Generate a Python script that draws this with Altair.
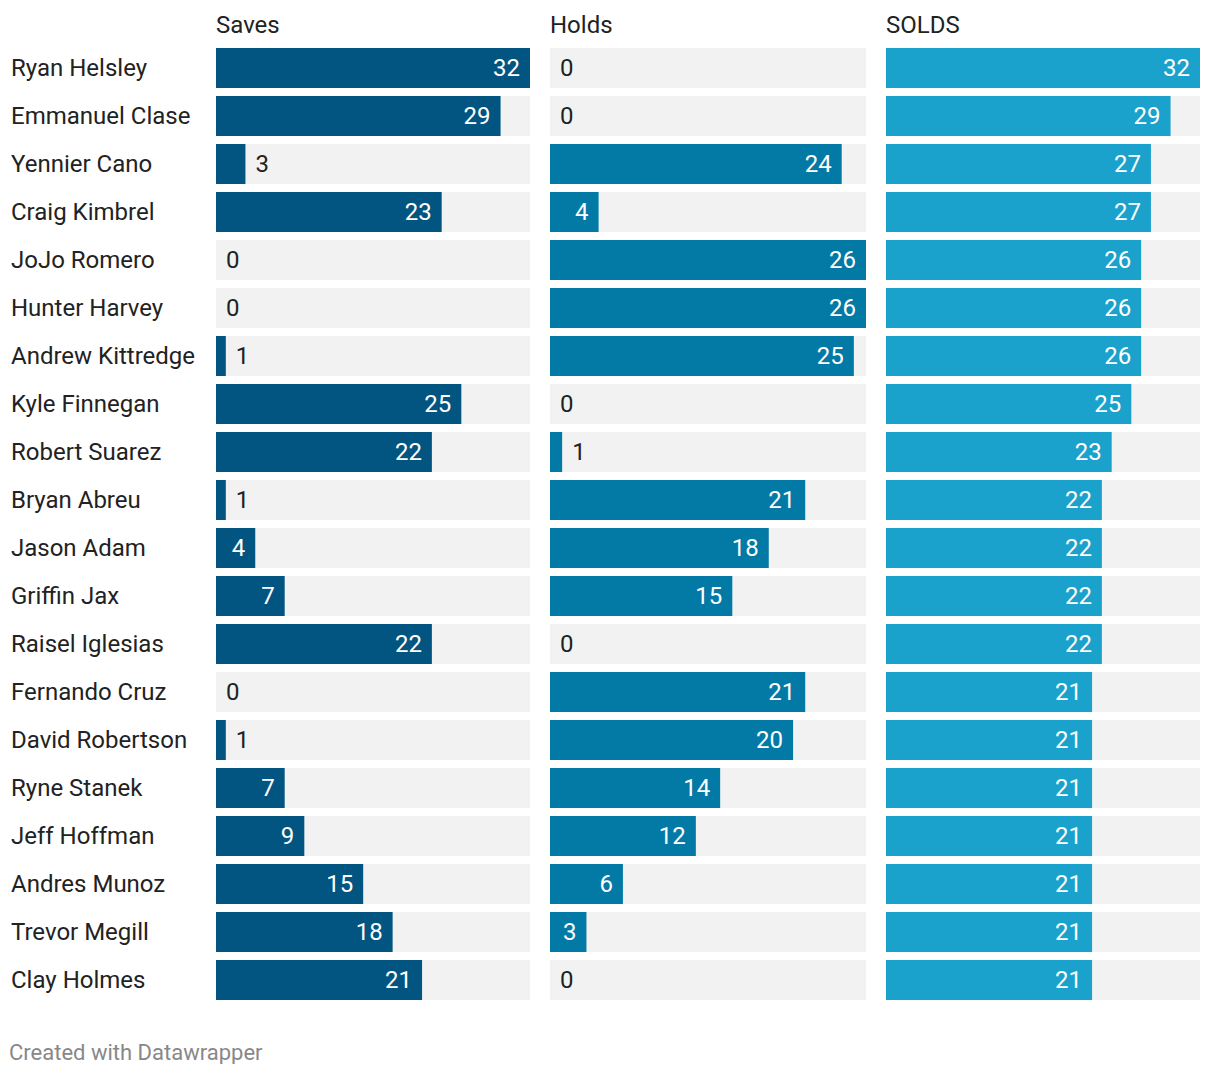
import altair as alt
import pandas as pd

names = ["Ryan Helsley", "Emmanuel Clase", "Yennier Cano", "Craig Kimbrel", "JoJo Romero",
         "Hunter Harvey", "Andrew Kittredge", "Kyle Finnegan", "Robert Suarez", "Bryan Abreu",
         "Jason Adam", "Griffin Jax", "Raisel Iglesias", "Fernando Cruz", "David Robertson",
         "Ryne Stanek", "Jeff Hoffman", "Andres Munoz", "Trevor Megill", "Clay Holmes"]
saves = [32, 29, 3, 23, 0, 0, 1, 25, 22, 1, 4, 7, 22, 0, 1, 7, 9, 15, 18, 21]
holds = [0, 0, 24, 4, 26, 26, 25, 0, 1, 21, 18, 15, 0, 21, 20, 14, 12, 6, 3, 0]
solds = [32, 29, 27, 27, 26, 26, 26, 25, 23, 22, 22, 22, 22, 21, 21, 21, 21, 21, 21, 21]

df = pd.DataFrame({"name": names, "Saves": saves, "Holds": holds, "SOLDS": solds})

FONT = "Roboto"
TEXT = "#222222"
H = 960
FS = 24


def yenc():
    return alt.Y("name:N", sort=names, axis=None,
                 scale=alt.Scale(paddingInner=1 / 6, paddingOuter=1 / 12))


def ptitle(t):
    return alt.TitleParams(t, anchor="start", fontSize=FS, font=FONT, fontWeight="normal",
                           color=TEXT, offset=6)


def panel(col, maxv, width, color):
    base = alt.Chart(df).transform_calculate(
        v=f"datum['{col}']", full=f"{maxv}", px=f"datum['{col}'] * {width} / {maxv}")
    xs = alt.Scale(domain=[0, maxv], nice=False, zero=True)
    bg = base.mark_bar(color="#f2f2f2").encode(
        x=alt.X("full:Q", scale=xs, axis=None), y=yenc())
    bar = base.mark_bar(color=color).encode(
        x=alt.X("v:Q", scale=xs, axis=None), y=yenc())
    inside = base.transform_filter("datum.px >= 30").mark_text(
        align="right", baseline="middle", dx=-10, dy=1, color="white", font=FONT, fontSize=FS
    ).encode(x=alt.X("v:Q", scale=xs, axis=None), y=yenc(), text="v:Q")
    outside = base.transform_filter("datum.px < 30").mark_text(
        align="left", baseline="middle", dx=10, dy=1, color=TEXT, font=FONT, fontSize=FS
    ).encode(x=alt.X("v:Q", scale=xs, axis=None), y=yenc(), text="v:Q")
    return alt.layer(bg, bar, inside, outside).properties(
        width=width, height=H, title=ptitle(col))


name_panel = alt.Chart(df).mark_text(
    align="left", baseline="middle", dy=1, font=FONT, fontSize=FS, color=TEXT
).encode(x=alt.value(0), y=yenc(), text="name:N").properties(
    width=184, height=H, title=ptitle(" "))

chart = alt.hconcat(
    name_panel,
    panel("Saves", 32, 314, "#015580"),
    panel("Holds", 26, 316, "#0379a6"),
    panel("SOLDS", 32, 314, "#1aa1cc"),
    spacing=20,
).properties(
    title=alt.TitleParams("Created with Datawrapper", orient="bottom", anchor="start",
                          fontSize=22, font=FONT, fontWeight="normal", color="#888888",
                          offset=39, dx=-2),
    padding={"left": 9, "top": 14, "right": 0, "bottom": 0},
).configure(background="white").configure_view(stroke=None, strokeWidth=0)

chart.save("out.html", embed_options={"renderer": "svg", "actions": False})
